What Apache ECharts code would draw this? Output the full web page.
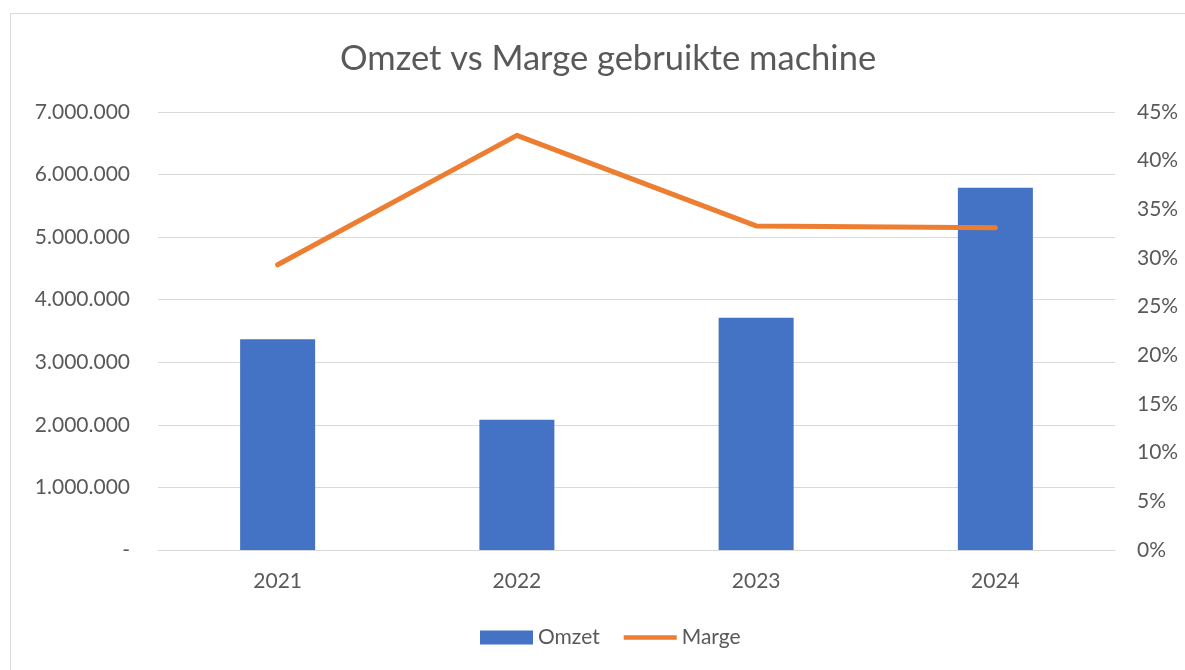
<!DOCTYPE html>
<html>
<head>
<meta charset="utf-8">
<script src="https://cdn.jsdelivr.net/npm/echarts@6/dist/echarts.min.js"></script>
<style>
  html, body { margin: 0; padding: 0; background: #fff; }
  #main { width: 1185px; height: 670px; }
</style>
</head>
<body>
<div id="main"></div>
<script>
  // jaren
  const years = ["2021", "2022", "2023", "2024"];
  // omzet in euro
  const omzet = [3370000, 2080000, 3710000, 5790000];
  // marge als fractie
  const marge = [0.293, 0.426, 0.333, 0.331];

  const textColor = "#595959";
  const font = "Lato, 'Open Sans', sans-serif";

  // 1234567 -> 1.234.567, 0 -> -
  const fmtEuro = (v) => {
    if (v === 0) return "-";
    return String(Math.round(v)).replace(/\B(?=(\d{3})+(?!\d))/g, ".");
  };

  const chartDom = document.getElementById("main");
  const myChart = echarts.init(chartDom);

  const option = {
    animation: false,
    textStyle: { fontFamily: font, color: textColor },
    graphic: [
      {
        type: "rect",
        shape: { x: 10.5, y: 13.5, width: 1200, height: 700 },
        style: { fill: "none", stroke: "#d9d9d9", lineWidth: 1 },
        silent: true,
      },
    ],
    title: {
      text: "Omzet vs Marge gebruikte machine",
      left: 335,
      top: 36,
      textStyle: {
        fontFamily: font,
        fontSize: 34.5,
        fontWeight: "normal",
        color: textColor,
      },
    },
    legend: {
      top: 622,
      left: 475,
      itemWidth: 53,
      itemHeight: 14,
      itemGap: 24,
      textStyle: { fontFamily: font, fontSize: 21, color: textColor },
      data: [
        { name: "Omzet", icon: "rect" },
        { name: "Marge", icon: "path://M0,0 L56,0 L56,5 L0,5 Z" },
      ],
    },
    grid: { left: 158, right: 70, top: 112, bottom: 120 },
    xAxis: {
      type: "category",
      data: years,
      axisLine: { lineStyle: { color: "#d9d9d9", width: 1 } },
      axisTick: { show: false },
      axisLabel: { fontSize: 21, color: textColor, margin: 21 },
    },
    yAxis: [
      {
        type: "value",
        min: 0,
        max: 7000000,
        interval: 1000000,
        axisLine: { show: false },
        axisTick: { show: false },
        splitLine: { lineStyle: { color: "#d9d9d9", width: 1 } },
        axisLabel: {
          fontSize: 21,
          color: textColor,
          margin: 28,
          formatter: fmtEuro,
        },
      },
      {
        type: "value",
        min: 0,
        max: 0.45,
        interval: 0.05,
        axisLine: { show: false },
        axisTick: { show: false },
        splitLine: { show: false },
        axisLabel: {
          fontSize: 21,
          color: textColor,
          margin: 22,
          formatter: (v) => Math.round(v * 100) + "%",
        },
      },
    ],
    series: [
      {
        name: "Omzet",
        type: "bar",
        data: omzet,
        barWidth: 75,
        itemStyle: { color: "#4472C4" },
      },
      {
        name: "Marge",
        type: "line",
        yAxisIndex: 1,
        data: marge,
        symbol: "none",
        lineStyle: { color: "#ED7D31", width: 5, cap: "round", join: "round" },
        itemStyle: { color: "#ED7D31" },
      },
    ],
  };

  option && myChart.setOption(option);
</script>
</body>
</html>
